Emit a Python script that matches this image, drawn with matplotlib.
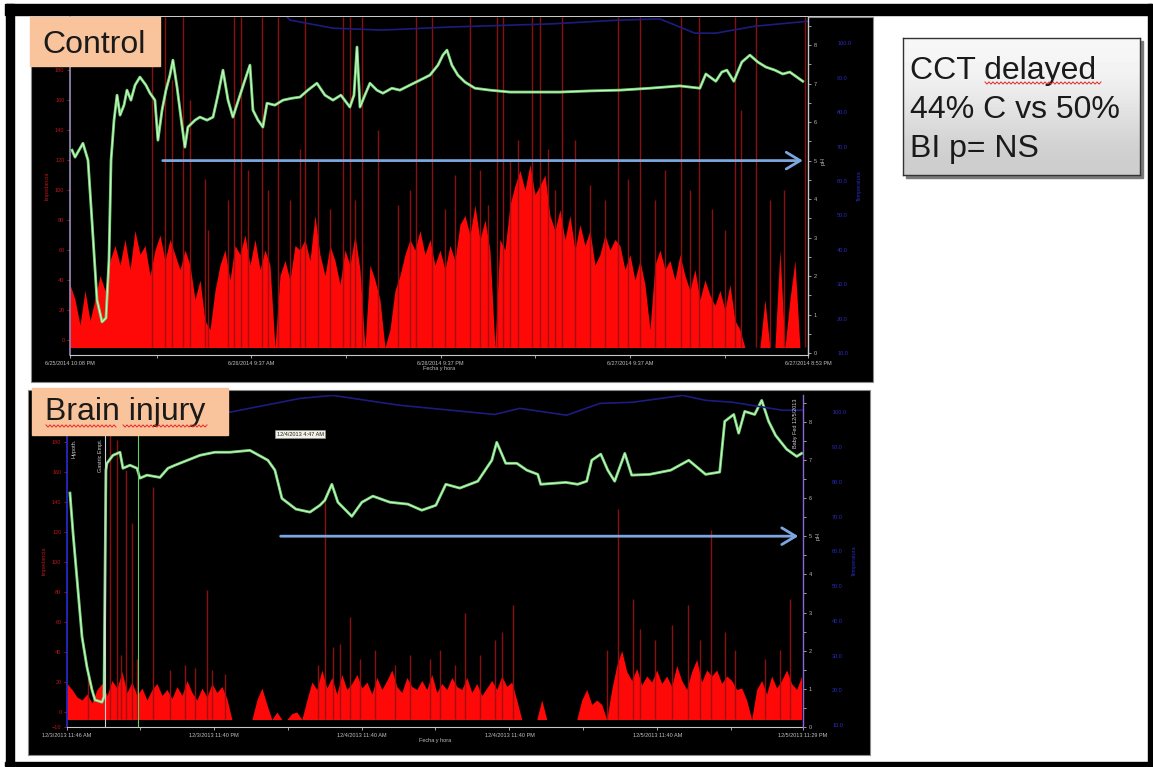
import numpy as np
import matplotlib
matplotlib.use('Agg')
import matplotlib.pyplot as plt
from matplotlib.patches import Rectangle
from matplotlib.lines import Line2D

W, H = 1153, 767

# ---------------- Control (hours after 6/25/2014 10:08 PM) ----------------
ctrl_span = 46.75
ctrl_step = 0.3167
ctrl_red = [37, 27, 10, 33, 13, 27, 43, 33, 53, 63,
            50, 67, 47, 73, 57, 63, 43, 60, 70, 53,
            67, 57, 47, 60, 50, 27, 40, 13, 7, 33,
            50, 60, 40, 63, 57, 70, 50, 67, 47, 60,
            50, -5, 43, 53, 40, 63, 60, 67, 53, 83,
            57, 43, 63, 53, 37, 60, 50, 70, 47, -5,
            50, 40, 27, -5, 7, 33, 43, 57, 67, 60,
            73, 57, 67, 50, 60, 47, 63, 53, 77, 83,
            70, 90, 67, 80, 60, -5, 67, 60, 90, 103,
            113, 100, 117, 97, 103, 110, 83, 73, 87, 67,
            83, 60, 77, 63, 73, 50, 57, 70, 60, 67,
            63, 47, 57, 40, 53, 37, 7, 50, 60, 47,
            53, 40, 57, 43, 33, 47, 27, 40, 30, 23,
            33, 20, 37, 13, 7, -5, -5, -5, -5, 27,
            -5, -5, 60, -5, 27, 53, -5, -5]
ctrl_spike_t = [5.19, 6.02, 6.46, 7.16, 7.60, 8.74, 10.39, 10.83, 12.16, 13.17,
                14.57, 14.88, 17.29, 17.73, 18.49, 19.51, 21.91, 22.93, 25.33, 27.04,
                27.42, 28.37, 29.26, 29.77, 31.16, 31.98, 34.71, 36.10, 38.70, 39.84,
                42.12, 42.50, 43.45, 44.33, 45.22, 46.55,
                8.55, 10.01, 11.27, 12.54, 13.93, 15.71, 16.47, 18.05, 20.77, 21.53,
                23.75, 24.38, 25.97, 26.47, 27.87, 30.27, 30.72, 32.93, 33.88, 35.34,
                37.05, 37.68, 39.27, 40.66, 41.48]
ctrl_spike_h = [215, 215, 173, 215, 160, 73, 215, 215, 215, 215,
                127, 215, 215, 215, 215, 140, 215, 215, 215, 215,
                215, 133, 215, 215, 215, 133, 215, 215, 215, 215,
                215, 153, 215, 93, 100, 215,
                107, 93, 113, 100, 93, 120, 87, 93, 90, 100,
                87, 110, 113, 90, 120, 127, 100, 103, 93, 107,
                93, 113, 100, 87, 73]
ctrl_green_t = [0.13, 0.32, 0.82, 1.14, 1.39, 1.71, 2.03, 2.28, 2.47, 2.60,
                2.79, 2.98, 3.17, 3.42, 3.61, 3.86, 4.12, 4.43, 4.81, 5.07,
                5.38, 5.57, 5.83, 6.08, 6.33, 6.52, 6.78, 7.09, 7.28, 7.47,
                7.92, 8.23, 8.68, 9.06, 9.37, 9.69, 10.01, 10.32, 10.77, 11.08,
                11.40, 11.59, 11.91, 12.22, 12.48, 12.98, 13.49, 14.06, 14.57, 15.07,
                15.64, 16.15, 16.66, 17.16, 17.73, 17.99, 18.18, 18.37, 18.68, 19.00,
                19.44, 19.82, 20.39, 20.90, 21.53, 22.17, 22.80, 23.31, 23.62, 23.88,
                24.19, 24.57, 25.02, 25.65, 26.60, 27.87, 29.13, 31.03, 32.93, 34.83,
                36.73, 38.63, 39.90, 40.28, 40.91, 41.29, 41.61, 42.05, 42.56, 43.07,
                43.57, 44.08, 44.65, 45.15, 45.60, 46.42]
ctrl_green_v = [5.27, 5.09, 5.45, 5.01, 3.45, 1.38, 0.81, 0.91, 2.42, 5.01,
                6.05, 6.70, 6.18, 6.44, 6.83, 6.57, 6.96, 7.17, 6.96, 6.75,
                6.57, 5.53, 6.31, 6.83, 7.22, 7.61, 6.91, 5.92, 5.35, 5.87,
                6.05, 6.13, 6.05, 6.13, 6.70, 7.35, 6.57, 6.13, 6.70, 7.09,
                7.48, 6.31, 6.05, 5.87, 6.49, 6.44, 6.57, 6.62, 6.65, 6.83,
                7.01, 6.70, 6.57, 6.70, 6.39, 6.70, 7.95, 6.39, 6.70, 7.01,
                6.83, 6.75, 6.88, 6.83, 6.96, 7.09, 7.22, 7.48, 7.74, 7.87,
                7.48, 7.22, 7.04, 6.88, 6.83, 6.78, 6.78, 6.78, 6.81, 6.83,
                6.88, 6.94, 6.88, 7.25, 7.06, 7.30, 7.35, 7.06, 7.56, 7.74,
                7.56, 7.43, 7.35, 7.25, 7.30, 7.06]
ctrl_blue_t = [13.6, 13.93, 16.66, 19.82, 24.07, 30.4, 34.83, 37.37, 39.58, 40.91, 43.38, 46.74]
ctrl_blue_v = [8.80, 8.65, 8.44, 8.39, 8.47, 8.55, 8.65, 8.68, 8.31, 8.31, 8.49, 8.62]
ctrl_xticks = [0, 11.48, 23.48, 35.48, 46.75]
ctrl_xminor = [5.48, 17.48, 29.48, 41.48]
ctrl_xlabels = ['6/25/2014 10:08 PM', '6/26/2014 9:37 AM', '6/26/2014 9:37 PM',
                '6/27/2014 9:37 AM', '6/27/2014 8:53 PM']

# ---------------- Brain injury (hours after 12/3/2013 11:46 AM) ----------------
bi_span = 59.72
bi_step = 0.4055
bi_red = [19, 15, 10, 8, 12, 6, 15, 19, 11, 21,
          16, 27, 13, 20, 11, 16, 8, 15, 19, 11,
          15, 9, 17, 11, 21, 13, 8, 16, 10, 19,
          13, 17, 9, -5, -5, -5, -5, -5, 8, 16,
          5, -5, 0, -5, -5, -1, 0, -5, 8, 20,
          15, 28, 16, 23, 12, 25, 15, 19, 25, 16,
          20, 12, 23, 15, 21, 28, 17, 13, 23, 17,
          15, 21, 15, 25, 13, 19, 15, 23, 17, 15,
          23, 13, 19, 11, 16, 21, 15, 24, 17, 20,
          8, -5, -5, -5, -5, 8, -5, -5, -5, -5,
          -5, -5, -5, 8, 15, 5, 8, 5, -5, 15,
          31, 41, 27, 21, 29, 18, 24, 20, 28, 19,
          24, 17, 31, 21, 15, 27, 35, 20, 28, 24,
          28, 19, 24, 21, 15, 16, 8, -5, 15, 21,
          12, 24, 16, 21, 28, 19, 15, 24]
bi_spike_t = [3.49, 4.06, 4.79, 5.27, 6.97, 11.35, 20.92, 21.57, 22.95, 32.28,
              35.28, 36.17, 44.69, 45.90, 49.07, 50.36, 52.23, 53.37, 58.64,
              1.70, 4.38, 5.68, 8.35, 9.57, 10.38, 11.76, 12.81, 20.36, 22.14,
              23.76, 24.98, 26.60, 27.82, 29.44, 30.25, 31.47, 33.50, 34.71, 43.80,
              46.47, 47.69, 51.34, 54.18, 56.61, 57.83]
bi_spike_h = [200, 181, 161, 126, 150, 81, 140, 43, 63, 66,
              53, 71, 135, 75, 58, 71, 121, 53, 75,
              23, 38, 35, 28, 31, 29, 28, 25, 31, 45,
              35, 41, 31, 38, 35, 41, 31, 38, 48, 41,
              55, 48, 48, 41, 35, 41]
bi_green_t = [0.24, 0.49, 0.89, 1.22, 1.62, 2.03, 2.27, 2.84, 3.00, 3.16,
              3.24, 3.73, 4.30, 4.54, 5.11, 5.68, 5.92, 6.49, 7.54, 8.19,
              8.76, 10.79, 12.00, 13.22, 14.84, 16.30, 16.87, 17.44, 18.57, 19.71,
              20.52, 20.92, 21.49, 21.98, 23.11, 23.93, 24.82, 26.20, 27.66, 28.79,
              29.93, 30.74, 31.87, 33.33, 34.47, 34.87, 35.60, 36.50, 37.31, 38.20,
              38.44, 40.47, 41.44, 42.17, 42.58, 43.31, 43.88, 44.44, 45.26, 45.82,
              47.28, 48.99, 50.45, 51.82, 52.96, 53.37, 54.10, 54.50, 54.99, 55.80,
              56.37, 56.93, 57.50, 58.39, 59.21, 59.61]
bi_green_v = [6.13, 5.08, 3.59, 2.36, 1.57, 0.97, 0.71, 0.65, 0.79, 6.73,
              6.91, 7.12, 7.20, 6.78, 6.86, 6.78, 6.52, 6.60, 6.54, 6.78,
              6.86, 7.12, 7.20, 7.20, 7.25, 6.99, 6.73, 5.99, 5.71, 5.63,
              5.81, 5.94, 6.36, 5.89, 5.52, 5.89, 6.05, 5.89, 5.84, 5.68,
              5.81, 6.36, 6.26, 6.44, 6.99, 7.46, 6.91, 6.91, 6.73, 6.62,
              6.36, 6.41, 6.36, 6.44, 6.99, 7.15, 6.73, 6.44, 7.17, 6.60,
              6.62, 6.73, 6.99, 6.62, 6.68, 8.01, 8.19, 7.70, 8.27, 8.19,
              8.56, 8.01, 7.64, 7.28, 7.09, 7.17]
bi_blue_t = [12.0, 13.22, 18.9, 21.57, 27.0, 34.7, 36.74, 40.55, 43.23, 45.9, 49.96, 51.83, 54.0, 58.07, 59.72]
bi_blue_v = [8.30, 8.25, 8.61, 8.69, 8.43, 8.19, 8.35, 8.17, 8.48, 8.51, 8.69, 8.56, 8.51, 8.30, 8.30]
bi_xticks = [0, 11.9, 23.9, 35.9, 47.9, 59.72]
bi_xminor = [5.9, 17.9, 29.9, 41.9, 53.9]
bi_xlabels = ['12/3/2013 11:46 AM', '12/3/2013 11:40 PM', '12/4/2013 11:40 AM',
              '12/4/2013 11:40 PM', '12/5/2013 11:40 AM', '12/5/2013 11:29 PM']
bi_event_t = [3.08, 5.76]

blue_scale = ['100.0', '90.0', '80.0', '70.0', '60.0', '50.0', '40.0', '30.0', '20.0', '10.0']

plt.rcParams['font.family'] = ['Liberation Sans', 'DejaVu Sans']


def fr(x0, y0, x1, y1):
    return [x0 / W, 1 - y1 / H, (x1 - x0) / W, (y1 - y0) / H]


def box(x0, y0, x1, y1, **kw):
    r = Rectangle((x0 / W, 1 - y1 / H), (x1 - x0) / W, (y1 - y0) / H,
                  transform=fig.transFigure, **kw)
    fig.add_artist(r)


def squiggle(x0, x1, y):
    xs = np.arange(x0, x1, 2.0)
    ys = y + np.where(np.arange(len(xs)) % 2 == 0, -1.1, 1.1)
    fig.add_artist(Line2D(xs / W, 1 - ys / H, color='#e02828', lw=0.7, zorder=8))


def panel(rect, span, step, red, sp_t, sp_h, g_t, g_v, b_t, b_v, left_lim, left_ticks,
          right_lim, xt, xminor, xlab, arrow_from, lcol, rcol, blue_lim):
    ax = fig.add_axes(rect)
    ax.set_facecolor('black')
    t = np.arange(len(red)) * step
    ax.fill_between(t, -5, red, color='#ff0808', lw=0)
    ax.vlines(sp_t, -5, sp_h, color='#9a1212', lw=1.0, alpha=0.9)
    ax.set_xlim(0, span)
    ax.set_ylim(*left_lim)
    ax.set_yticks(left_ticks)
    ax.set_xticks(xt)
    ax.set_xticklabels(xlab)
    ax.set_xticks(xminor, minor=True)
    ax.tick_params(axis='y', colors='#b81818', labelsize=4, length=2, width=0.6, pad=2)
    ax.tick_params(axis='x', which='both', colors='#c0c0c0', labelsize=4, length=2, width=0.6, pad=2)
    ax.set_xlabel('Fecha y hora', color='#c0c0c0', fontsize=4, labelpad=0.5)
    ax.set_ylabel('Impedancia', color='#b81818', fontsize=4, labelpad=4)
    ax.spines['top'].set_visible(False)
    ax.spines['bottom'].set_color('#c8c8c8')
    ax.spines['left'].set_color(lcol)
    ax.spines['left'].set_linewidth(1.2)

    ar = ax.twinx()
    ar.plot(g_t, g_v, color='#78d878', lw=2.0, solid_joinstyle='round')
    ar.plot(g_t, g_v, color='#e8ffe8', lw=0.5)
    ar.plot(b_t, b_v, color='#1c1c80', lw=1.2)
    ar.annotate('', xy=(span - 0.15, 5), xytext=(arrow_from, 5),
                arrowprops=dict(arrowstyle='->,head_length=0.5,head_width=0.3',
                                color='#7ca6de', lw=2.0, mutation_scale=20))
    ar.set_ylim(*right_lim)
    ar.set_yticks(range(9))
    ar.set_yticks(np.arange(0, 8.6, 0.5), minor=True)
    ar.tick_params(axis='y', which='both', colors='#b8b8b8', labelsize=4, length=2, width=0.6, pad=2)
    ar.spines['right'].set_color(rcol)
    ar.spines['right'].set_linewidth(1.0)
    for s in ['top', 'left', 'bottom']:
        ar.spines[s].set_visible(False)
    ar.annotate('pH', xy=(1, 5), xycoords=('axes fraction', 'data'), xytext=(11, 0),
                textcoords='offset points', rotation=90, color='#b8b8b8', fontsize=4.5,
                va='center', ha='center')

    ab = ax.twinx()
    ab.set_ylim(*blue_lim)
    ab.set_yticks(range(10))
    ab.set_yticklabels(blue_scale[::-1])
    ab.spines['right'].set_position(('outward', 19))
    for s in ab.spines.values():
        s.set_visible(False)
    ab.tick_params(axis='y', colors='#2a2ac0', labelsize=4, length=0, pad=2)
    ab.set_ylabel('Temperatura', color='#2a2ac0', fontsize=4, labelpad=4)
    return ax, ar


fig = plt.figure(figsize=(W / 100, H / 100), dpi=100)
fig.patch.set_facecolor('white')

# slide frame
box(5, 4, 1152, 15, color='black', zorder=-10)
box(6, 4, 14, 766, color='black', zorder=-10)
box(5, 762, 1152, 766, color='black', zorder=-10)
box(1148, 4, 1152, 766, color='black', zorder=-10)

# screenshots
box(31, 17, 873, 382, fc='black', ec='#8a8a8a', lw=0.8, zorder=-5)
box(28, 390, 870, 755, fc='black', ec='#8a8a8a', lw=0.8, zorder=-5)

ax1, ar1 = panel(fr(70, 17, 808, 355), ctrl_span, ctrl_step, ctrl_red, ctrl_spike_t, ctrl_spike_h,
                 ctrl_green_t, ctrl_green_v, ctrl_blue_t, ctrl_blue_v,
                 (-10, 215.3), list(range(0, 181, 20)), (-0.05, 8.73),
                 ctrl_xticks, ctrl_xminor, ctrl_xlabels, 5.70, '#9a8cc0', '#c8c8c8',
                 (-0.06, 9.77))

ax2, ar2 = panel(fr(67, 395, 803, 727), bi_span, bi_step, bi_red, bi_spike_t, bi_spike_h,
                 bi_green_t, bi_green_v, bi_blue_t, bi_blue_v,
                 (-10, 211.3), [-10] + list(range(0, 181, 20)), (0, 8.7),
                 bi_xticks, bi_xminor, bi_xlabels, 17.11, '#2a2ad8', '#8a66d8',
                 (-0.05, 9.5))

# event markers in brain injury trace
ar2.axvline(bi_event_t[0], color='#d0d0d0', lw=0.8)
ar2.axvline(bi_event_t[1], color='#60d060', lw=0.8)
ar2.text(0.6, 7.55, 'Hypoth.', rotation=90, color='#d0d0d0', fontsize=4, va='top', ha='center')
ar2.text(2.7, 7.55, 'Gastric Empt.', rotation=90, color='#d0d0d0', fontsize=4, va='top', ha='center')
ar2.text(59.1, 8.6, 'Baby Fed 12/5/2013', rotation=90, color='#d0d0d0', fontsize=4, va='top', ha='center')
ar2.text(17.02, 7.67, '12/4/2013 4:47 AM', color='#202020', fontsize=4, va='center', ha='left',
         bbox=dict(fc='#f2f2e6', ec='#909090', lw=0.5, pad=1.2))

# orange labels
box(30, 17, 160, 66, color='#f9c49c', zorder=5)
fig.text(42 / W, 1 - 53 / H, 'Control', fontsize=23, color='#1a1a1a', va='baseline', zorder=6)
box(32, 388, 228, 435, color='#f9c49c', zorder=5)
fig.text(45 / W, 1 - 420 / H, 'Brain injury', fontsize=23, color='#1a1a1a', va='baseline', zorder=6)
squiggle(46, 117, 426)
squiggle(123, 208, 426)

# text box
box(906, 41, 1143, 178, color='#7a7a7a', zorder=4)
axb = fig.add_axes(fr(903, 38, 1140, 175), zorder=5)
axb.imshow([[0.97], [0.90], [0.80]], cmap='gray', vmin=0, vmax=1, aspect='auto',
           extent=(0, 1, 0, 1), interpolation='bicubic')
axb.set_xlim(0, 1)
axb.set_ylim(0, 1)
axb.set_xticks([])
axb.set_yticks([])
for s in axb.spines.values():
    s.set_color('#333333')
    s.set_linewidth(1.0)
for i, line in enumerate(['CCT delayed', '44% C vs 50%', 'BI p= NS']):
    fig.text(910 / W, 1 - (79 + 39 * i) / H, line, fontsize=23, color='#1a1a1a', va='baseline', zorder=7)
squiggle(985, 1103, 83)

fig.savefig('out.png', dpi=100, facecolor='white')
